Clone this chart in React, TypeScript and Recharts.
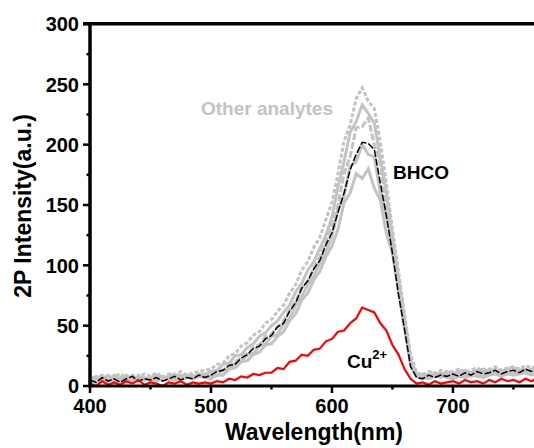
import React from "react";
import { LineChart, Line, XAxis, YAxis, Customized } from "recharts";

const wavelength = [
  400, 405, 410, 415, 420, 425, 430, 435, 440, 445,
  450, 455, 460, 465, 470, 475, 480, 485, 490, 495,
  500, 505, 510, 515, 520, 525, 530, 535, 540, 545,
  550, 555, 560, 565, 570, 575, 580, 585, 590, 595,
  600, 605, 610, 615, 620, 625, 630, 635, 640, 645,
  650, 655, 660, 665, 670, 675, 680, 685, 690, 695,
  700, 705, 710, 715, 720, 725, 730, 735, 740, 745,
  750, 755, 760, 765, 770,
];

const bhco = [
  5, 3, 7, 4, 6, 3, 6, 8, 4, 6,
  5, 7, 4, 6, 8, 5, 7, 6, 9, 7,
  9, 12, 13, 17, 18, 23, 26, 31, 33, 39,
  42, 49, 52, 62, 69, 81, 87, 97, 104, 117,
  127, 144, 160, 179, 192, 202, 201, 196, 168, 141,
  110, 76, 47, 16, 7, 6, 9, 7, 9, 8,
  10, 8, 11, 9, 12, 10, 11, 13, 10, 12,
  13, 11, 14, 12, 13,
];

const copper = [
  2, 0, 4, 1, 3, 1, 4, 2, 5, 1,
  3, 2, 0, 3, 2, 4, 1, 3, 2, 3,
  2, 4, 3, 6, 5, 8, 7, 10, 9, 11,
  11, 15, 14, 20, 21, 26, 25, 30, 31, 37,
  39, 45, 46, 52, 56, 65, 63, 61, 52, 46,
  34, 26, 14, 6, 2, 3, 1, 4, 2, 3,
  4, 2, 5, 3, 4, 2, 5, 3, 6, 4,
  5, 3, 6, 4, 7,
];

// other analytes (grey traces)
const other1 = [
  8, 5, 9, 6, 8, 10, 6, 9, 7, 10,
  8, 11, 7, 10, 9, 12, 9, 11, 12, 13,
  14, 18, 19, 25, 27, 33, 36, 42, 45, 52,
  55, 62, 67, 77, 84, 96, 103, 115, 123, 138,
  152, 176, 203, 216, 238, 247, 236, 230, 202, 168,
  130, 95, 60, 26, 11, 9, 12, 10, 13, 11,
  12, 14, 11, 13, 15, 12, 14, 16, 13, 15,
  16, 14, 17, 15, 16,
];
const other2 = [
  5, 8, 6, 9, 5, 7, 9, 6, 8, 5,
  7, 9, 6, 8, 10, 7, 9, 8, 10, 9,
  12, 13, 18, 19, 25, 26, 32, 35, 41, 44,
  50, 54, 61, 67, 78, 85, 96, 103, 114, 125,
  140, 165, 186, 210, 219, 233, 226, 218, 188, 160,
  124, 90, 55, 22, 9, 10, 8, 11, 9, 12,
  10, 12, 13, 11, 13, 14, 12, 14, 12, 14,
  15, 13, 14, 12, 15,
];
const other3 = [
  6, 4, 8, 5, 9, 6, 5, 8, 9, 5,
  6, 8, 7, 5, 8, 9, 7, 9, 8, 10,
  9, 13, 13, 18, 20, 24, 27, 32, 34, 41,
  43, 49, 54, 63, 70, 81, 87, 98, 107, 120,
  133, 150, 176, 190, 214, 215, 222, 200, 184, 148,
  120, 86, 52, 20, 9, 8, 10, 8, 11, 9,
  9, 11, 9, 12, 10, 12, 13, 10, 13, 11,
  13, 14, 12, 14, 13,
];
const other4 = [
  3, 6, 4, 7, 4, 6, 8, 4, 6, 7,
  4, 6, 8, 6, 5, 7, 8, 6, 8, 7,
  8, 9, 13, 14, 19, 20, 26, 27, 33, 35,
  41, 43, 51, 56, 67, 74, 84, 91, 102, 111,
  124, 146, 158, 182, 186, 200, 192, 190, 160, 140,
  116, 82, 50, 19, 8, 6, 8, 9, 7, 10,
  7, 9, 10, 8, 10, 8, 11, 10, 11, 12,
  10, 12, 11, 13, 12,
];
const other5 = [
  4, 3, 6, 4, 6, 4, 3, 6, 4, 6,
  7, 4, 6, 5, 7, 5, 7, 6, 8, 7,
  6, 9, 9, 14, 15, 20, 21, 26, 28, 34,
  35, 41, 45, 54, 60, 71, 77, 88, 95, 107,
  116, 130, 152, 160, 176, 172, 180, 164, 154, 126,
  110, 78, 47, 17, 8, 7, 6, 8, 9, 7,
  6, 8, 7, 9, 8, 7, 9, 10, 8, 10,
  9, 10, 11, 9, 11,
];

const xTicks = [400, 450, 500, 550, 600, 650, 700, 750];
const yTicks = [0, 25, 50, 75, 100, 125, 150, 175, 200, 225, 250, 275, 300];

const data = wavelength.map((w, i) => ({
  w,
  bhco: bhco[i],
  cu: copper[i],
  o1: other1[i],
  o2: other2[i],
  o3: other3[i],
  o4: other4[i],
  o5: other5[i],
}));

const FONT = "'Liberation Sans', Arial, sans-serif";
const GREY = "#c3c3c3";

const YTick = (props: any) => {
  const { x, y, payload } = props;
  const major = payload.value % 50 === 0;
  const len = major ? 7 : 3.5;
  return (
    <g>
      <rect x={x - len} y={y - 1.25} width={len} height={2.5} fill="#000" />
      {major && (
        <text x={x - 11} y={y} dy="0.36em" textAnchor="end" fontFamily={FONT} fontWeight="bold" fontSize={20} fill="#000">
          {payload.value}
        </text>
      )}
    </g>
  );
};

const XTick = (props: any) => {
  const { x, y, payload } = props;
  const major = payload.value % 100 === 0;
  const len = major ? 7 : 3.5;
  return (
    <g>
      <rect x={x - 1.25} y={y} width={2.5} height={len} fill="#000" />
      {major && (
        <text x={x} y={y + 27} textAnchor="middle" fontFamily={FONT} fontWeight="bold" fontSize={20} fill="#000">
          {payload.value}
        </text>
      )}
    </g>
  );
};

const Annotations = () => (
  <g fontFamily={FONT} fontWeight="bold">
    <text x={201} y={115} fontSize={19} fill={GREY}>Other analytes</text>
    <text x={393} y={179} fontSize={19} fill="#000">BHCO</text>
    <text x={347} y={368} fontSize={19} fill="#000">
      Cu
      <tspan fontSize={13} dy={-9}>2+</tspan>
    </text>
    <text x={314} y={440} fontSize={23} textAnchor="middle" fill="#000">Wavelength(nm)</text>
    <text x={0} y={0} fontSize={23} textAnchor="middle" fill="#000" transform="translate(31,206) rotate(-90)">
      2P Intensity(a.u.)
    </text>
  </g>
);

const lineProps = { dot: false, activeDot: false, isAnimationActive: false } as const;

export default function App() {
  return (
    <div style={{ position: "fixed", left: 0, top: 0, width: 534, height: 448, background: "#fff" }}>
      <LineChart width={534} height={448} data={data} margin={{ top: 24, right: 0, bottom: 0, left: 0 }}>
        <XAxis
          dataKey="w"
          type="number"
          domain={[400, 767]}
          allowDataOverflow
          ticks={xTicks}
          interval={0}
          height={62}
          tickSize={0}
          tickMargin={0}
          tickLine={false}
          tick={<XTick />}
          axisLine={{ stroke: "#000", strokeWidth: 3 }}
        />
        <YAxis
          type="number"
          domain={[0, 300]}
          ticks={yTicks}
          interval={0}
          width={90}
          tickSize={0}
          tickMargin={0}
          tickLine={false}
          tick={<YTick />}
          axisLine={{ stroke: "#000", strokeWidth: 3 }}
        />
        <Line dataKey="o5" stroke={GREY} strokeWidth={3} {...lineProps} />
        <Line dataKey="o4" stroke={GREY} strokeWidth={3} {...lineProps} />
        <Line dataKey="o3" stroke={GREY} strokeWidth={3} strokeDasharray="7 2" {...lineProps} />
        <Line dataKey="o2" stroke={GREY} strokeWidth={3} {...lineProps} />
        <Line dataKey="o1" stroke={GREY} strokeWidth={3} strokeDasharray="4 2" {...lineProps} />
        <Line dataKey="bhco" stroke="#000" strokeWidth={1.5} strokeDasharray="7 2" {...lineProps} />
        <Line dataKey="cu" stroke="#f00" strokeWidth={2.2} {...lineProps} />
        <Customized component={<Annotations />} />
      </LineChart>
      <svg
        width={534}
        height={448}
        style={{ position: "absolute", left: 0, top: 0, zIndex: 10, pointerEvents: "none" }}
      >
        {/* top border of the plot box + thick left axis */}
        <rect x={83} y={22} width={451} height={3.5} fill="#000" />
        <rect x={88.5} y={22} width={3} height={366} fill="#000" />
      </svg>
    </div>
  );
}
